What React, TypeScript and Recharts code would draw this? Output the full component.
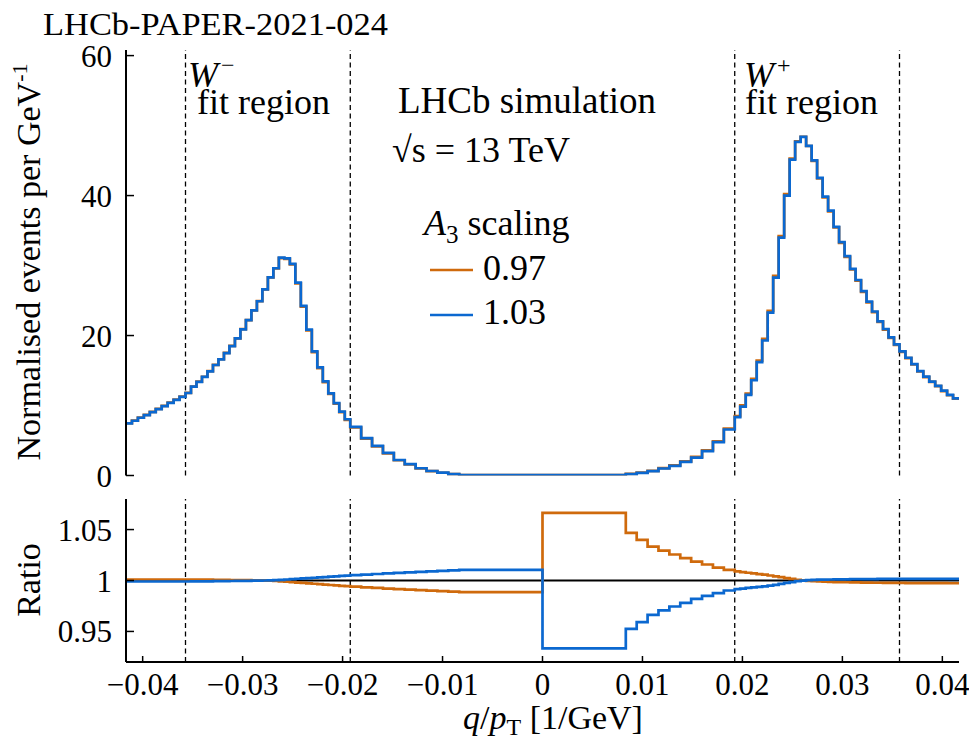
import React from "react";
import { ComposedChart, Line, XAxis, YAxis, ReferenceLine } from "recharts";

// q/pT bin layout: region boundaries (1/pT at 24, 28, 52, 120 GeV) and number of bins in each
const regionEdges = [-1 / 24, -1 / 28, -1 / 52, -1 / 120, 0, 1 / 120, 1 / 52, 1 / 28, 1 / 24];
const binsPerRegion = [10, 30, 10, 1, 1, 10, 30, 10];

// normalised events per GeV^-1, negative side (left to right)
const eventsNeg = [
  7.46, 7.83, 8.26, 8.64, 9.07, 9.5, 9.93, 10.4, 10.83, 11.26,
  11.8, 12.7, 13.4, 14.1, 14.9, 15.8, 16.6, 17.5, 18.5, 19.6,
  20.9, 22.2, 23.6, 24.9, 26.6, 28.3, 29.6, 31.1, 31.0, 30.2,
  27.5, 24.2, 20.8, 17.7, 15.4, 13.4, 11.7, 10.3, 9.1, 8.0,
  6.9, 5.3, 4.2, 3.2, 2.2, 1.6, 1.03, 0.64, 0.4, 0.2,
  0.05,
];
// positive side
const eventsPos = [
  0.05,
  0.21, 0.4, 0.64, 1.03, 1.4, 1.98, 2.6, 3.55, 4.83, 6.64,
  8.4, 9.93, 11.6, 13.7, 16.3, 19.4, 23.4, 28.4, 34.1, 40.1,
  45.2, 47.7, 48.4, 47.1, 45.0, 42.5, 39.8, 37.8, 35.5, 33.3,
  31.3, 29.5, 27.9, 26.3, 24.8, 23.4, 22.0, 20.9, 19.7, 18.7,
  17.7, 16.8, 15.9, 14.9, 14.1, 13.4, 12.8, 12.1, 11.5, 11.0,
];

// ratio to nominal, A3 scaling 0.97
const ratioLowNeg = [
  1.001, 1.001, 1.001, 1.001, 1.001, 1.001, 1.001, 1.001, 1.001, 1.001,
  1.001, 1.0009, 1.0009, 1.0008, 1.0008, 1.0007, 1.0006, 1.0006, 1.0005, 1.0004,
  1.0004, 1.0003, 1.0002, 1.0001, 1.0, 0.9999, 0.9996, 0.9992, 0.9988, 0.9984,
  0.998, 0.9976, 0.9972, 0.9968, 0.9964, 0.996, 0.9956, 0.9952, 0.9948, 0.9944,
  0.9939, 0.9933, 0.9927, 0.9921, 0.9915, 0.991, 0.9905, 0.99, 0.9895, 0.989,
  0.9885,
];
const ratioLowPos = [
  1.0664,
  1.0467, 1.0399, 1.0333, 1.0294, 1.0255, 1.0219, 1.0186, 1.0157, 1.0127, 1.0105,
  1.009, 1.0083, 1.0076, 1.007, 1.0063, 1.0057, 1.0049, 1.0041, 1.0033, 1.0024,
  1.0015, 1.0007, 1.0001, 0.9996, 0.9993, 0.999, 0.9988, 0.9986, 0.9985, 0.9984,
  0.9983, 0.9982, 0.9981, 0.998, 0.9979, 0.9978, 0.9978, 0.9977, 0.9977, 0.9976,
  0.9976, 0.9975, 0.9975, 0.9975, 0.9974, 0.9974, 0.9974, 0.9974, 0.9973, 0.9973,
];
// ratio to nominal, A3 scaling 1.03
const ratioHighNeg = [
  0.999, 0.999, 0.999, 0.999, 0.999, 0.999, 0.999, 0.999, 0.999, 0.999,
  0.999, 0.9991, 0.9991, 0.9992, 0.9992, 0.9993, 0.9994, 0.9994, 0.9995, 0.9996,
  0.9996, 0.9997, 0.9998, 0.9999, 1.0, 1.0001, 1.0004, 1.0007, 1.001, 1.0014,
  1.0017, 1.002, 1.0024, 1.0027, 1.0031, 1.0034, 1.0038, 1.0041, 1.0045, 1.0048,
  1.0052, 1.0058, 1.0064, 1.0069, 1.0074, 1.008, 1.0085, 1.009, 1.0095, 1.01,
  1.0105,
];
const ratioHighPos = [
  0.9333,
  0.9526, 0.9592, 0.9663, 0.9706, 0.9745, 0.9781, 0.982, 0.985, 0.9876, 0.9902,
  0.9915, 0.9921, 0.9927, 0.9932, 0.9937, 0.9942, 0.995, 0.9958, 0.9966, 0.9976,
  0.9985, 0.9993, 0.9999, 1.0003, 1.0006, 1.0008, 1.0009, 1.001, 1.0011, 1.0012,
  1.0012, 1.0013, 1.0013, 1.0014, 1.0014, 1.0014, 1.0015, 1.0015, 1.0015, 1.0015,
  1.0016, 1.0016, 1.0016, 1.0016, 1.0016, 1.0016, 1.0016, 1.0016, 1.0016, 1.0016,
];

const xTicks = [-0.04, -0.03, -0.02, -0.01, 0, 0.01, 0.02, 0.03, 0.04];
const yTicks = [0, 20, 40, 60];
const ratioTicks = [0.95, 1, 1.05];
const fitBounds = [-1 / 28, -1 / 52, 1 / 52, 1 / 28];

const ORANGE = "#cf6a0c";
const BLUE = "#0b68d0";
const SERIF = "'Liberation Serif', 'Times New Roman', serif";

// bin low edges + final upper edge, for stepAfter lines
const edges: number[] = [];
binsPerRegion.forEach((n, r) => {
  const lo = regionEdges[r];
  const hi = regionEdges[r + 1];
  for (let k = 0; k < n; k++) edges.push(lo + ((hi - lo) * k) / n);
});
edges.push(regionEdges[regionEdges.length - 1]);

const events = [...eventsNeg, ...eventsPos];
const ratioLow = [...ratioLowNeg, ...ratioLowPos];
const ratioHigh = [...ratioHighNeg, ...ratioHighPos];

const rows = edges.map((q, i) => {
  const j = Math.min(i, events.length - 1);
  return {
    q,
    low: events[j] * ratioLow[j],
    high: events[j] * ratioHigh[j],
    rLow: ratioLow[j],
    rHigh: ratioHigh[j],
  };
});

const xDomain = [regionEdges[0], regionEdges[regionEdges.length - 1]];
const fmtX = (v: number) => (Math.abs(v) < 1e-9 ? "0" : (v < 0 ? "\u2212" : "") + Math.abs(v).toFixed(2));
const fmtR = (v: number) => (v === 1 ? "1" : String(v));

const axisLine = { stroke: "#000", strokeWidth: 2 };
const tickLine = { stroke: "#000", strokeWidth: 1.5 };
const tickFont = { fontFamily: SERIF, fontSize: 31, fill: "#000" };

function frameAxes(yDomain: number[], yT: number[]) {
  return [
    <XAxis key="xt" xAxisId="t" orientation="top" type="number" domain={xDomain} allowDataOverflow
      ticks={xTicks} interval={0} tick={false} height={0} tickSize={-6} axisLine={axisLine} tickLine={tickLine} />,
    <YAxis key="yr" yAxisId="r" orientation="right" type="number" domain={yDomain} allowDataOverflow
      ticks={yT} interval={0} tick={false} width={0} tickSize={-8} axisLine={axisLine} tickLine={tickLine} />,
  ];
}

function TopPanel() {
  const yDomain = [0, 60.8];
  return (
    <ComposedChart width={969} height={500} data={rows} margin={{ top: 50, right: 10, bottom: 24.5, left: 0 }}>
      <XAxis type="number" dataKey="q" domain={xDomain} allowDataOverflow ticks={xTicks} interval={0}
        tick={false} height={0} tickSize={-6} axisLine={axisLine} tickLine={tickLine} />
      <YAxis type="number" domain={yDomain} allowDataOverflow ticks={yTicks} interval={0} width={126}
        tickSize={-8} tickMargin={22} tick={tickFont} axisLine={axisLine} tickLine={tickLine} />
      {frameAxes(yDomain, yTicks)}
      {fitBounds.map((b) => (
        <ReferenceLine key={b} x={b} stroke="#000" strokeWidth={1.3} strokeDasharray="5 3.5" />
      ))}
      <Line type="stepAfter" dataKey="low" stroke={ORANGE} strokeWidth={2.7} dot={false} isAnimationActive={false} />
      <Line type="stepAfter" dataKey="high" stroke={BLUE} strokeWidth={2.7} dot={false} isAnimationActive={false} />
    </ComposedChart>
  );
}

function RatioPanel() {
  const yDomain = [0.92, 1.08];
  return (
    <ComposedChart width={969} height={261} data={rows} margin={{ top: 19, right: 10, bottom: 0, left: 0 }}>
      <XAxis type="number" dataKey="q" domain={xDomain} allowDataOverflow ticks={xTicks} interval={0}
        height={79} tickSize={-6} tickMargin={17} tick={tickFont} tickFormatter={fmtX}
        axisLine={axisLine} tickLine={tickLine} />
      <YAxis type="number" domain={yDomain} allowDataOverflow ticks={ratioTicks} interval={0} width={126}
        tickSize={-8} tickMargin={22} tick={tickFont} tickFormatter={fmtR} axisLine={axisLine} tickLine={tickLine} />
      {frameAxes(yDomain, ratioTicks)}
      {fitBounds.map((b) => (
        <ReferenceLine key={b} x={b} stroke="#000" strokeWidth={1.3} strokeDasharray="5 3.5" />
      ))}
      <ReferenceLine y={1} stroke="#000" strokeWidth={2.2} />
      <Line type="stepAfter" dataKey="rLow" stroke={ORANGE} strokeWidth={2.7} dot={false} isAnimationActive={false} />
      <Line type="stepAfter" dataKey="rHigh" stroke={BLUE} strokeWidth={2.7} dot={false} isAnimationActive={false} />
    </ComposedChart>
  );
}

function Annotations() {
  const t = { fontFamily: SERIF, fill: "#000" };
  return (
    <svg width={969} height={741} style={{ position: "absolute", left: 0, top: 0, pointerEvents: "none" }}>
      <text x={43} y={35} fontSize={31} textLength={345} lengthAdjust="spacingAndGlyphs" {...t}>
        LHCb-PAPER-2021-024
      </text>

      <text x={188} y={87} fontSize={36} {...t}>
        <tspan fontStyle="italic">W</tspan>
        <tspan fontSize={24} dx={3} dy={-14}>{"\u2212"}</tspan>
      </text>
      <text x={197} y={114} fontSize={36} {...t}>fit region</text>
      <text x={744} y={87} fontSize={36} {...t}>
        <tspan fontStyle="italic">W</tspan>
        <tspan fontSize={24} dx={3} dy={-14}>+</tspan>
      </text>
      <text x={745} y={114} fontSize={36} {...t}>fit region</text>

      <text x={398} y={113} fontSize={37} {...t}>LHCb simulation</text>
      <text x={392} y={162} fontSize={36} {...t}>{"\u221As = 13 TeV"}</text>

      <text x={424} y={235} fontSize={36} {...t}>
        <tspan fontStyle="italic">A</tspan>
        <tspan fontSize={25} dy={8}>3</tspan>
        <tspan dy={-8}> scaling</tspan>
      </text>
      <line x1={430} x2={473} y1={270} y2={270} stroke={ORANGE} strokeWidth={2.7} />
      <text x={483} y={280} fontSize={36} {...t}>0.97</text>
      <line x1={430} x2={473} y1={315} y2={315} stroke={BLUE} strokeWidth={2.7} />
      <text x={483} y={324} fontSize={36} {...t}>1.03</text>

      <text transform="rotate(-90)" x={-262} y={40} fontSize={34} textAnchor="middle" {...t}>
        Normalised events per GeV<tspan fontSize={22} dy={-13}>-1</tspan>
      </text>
      <text transform="rotate(-90)" x={-580} y={40} fontSize={34} textAnchor="middle" {...t}>Ratio</text>

      <text x={553} y={729} fontSize={34} textAnchor="middle" {...t}>
        <tspan fontStyle="italic">q</tspan>/<tspan fontStyle="italic">p</tspan>
        <tspan fontSize={24} dy={6}>T</tspan>
        <tspan dy={-6}> [1/GeV]</tspan>
      </text>
    </svg>
  );
}

export default function App() {
  return (
    <div style={{ position: "absolute", left: 0, top: 0, width: 969, height: 741, background: "#fff" }}>
      <div style={{ position: "absolute", left: 0, top: 0 }}>
        <TopPanel />
      </div>
      <div style={{ position: "absolute", left: 0, top: 480 }}>
        <RatioPanel />
      </div>
      <Annotations />
    </div>
  );
}
